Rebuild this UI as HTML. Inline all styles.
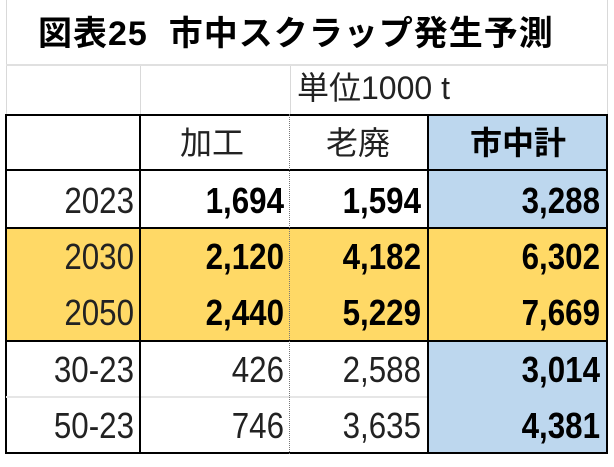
<!DOCTYPE html>
<html><head><meta charset="utf-8"><style>
body{margin:0;width:614px;height:467px;background:#fff;position:relative;overflow:hidden;font-family:"Liberation Sans","Noto Sans CJK JP",sans-serif;}
.a{position:absolute;box-sizing:border-box;}
.t{position:absolute;font-size:30px;line-height:1;color:#000;white-space:nowrap;}
.r{text-align:right;font-size:36px;transform:scaleX(0.87);transform-origin:right center;}
.b{font-weight:bold;}
</style></head><body>
<div class="a" style="left:6px;top:0;width:1px;height:115px;background:#d9d9d9"></div>
<div class="a" style="left:607px;top:0;width:1px;height:115px;background:#d9d9d9"></div>
<div class="a" style="left:6px;top:64px;width:602px;height:2px;background:#e0e0e0"></div>
<div class="a" style="left:140px;top:66px;width:1px;height:49px;background:#d9d9d9"></div>
<div class="a" style="left:290px;top:66px;width:1px;height:49px;background:#d9d9d9"></div>
<div class="t b" style="left:38px;top:17px;font-size:34px;letter-spacing:1px">図表25&nbsp; 市中スクラップ発生予測</div>
<div class="t" style="left:297px;top:72px;font-size:32px;color:#222">単位1000 t</div>
<div class="a" style="left:428px;top:115px;width:179px;height:113px;background:#BDD7EE"></div>
<div class="a" style="left:6px;top:228px;width:601px;height:113px;background:#FFD966"></div>
<div class="a" style="left:428px;top:341px;width:179px;height:112px;background:#BDD7EE"></div>
<div class="a" style="left:5px;top:114px;width:603px;height:340px;border:2px solid #000"></div>
<div class="a" style="left:5px;top:169px;width:603px;height:2px;background:#000"></div>
<div class="a" style="left:5px;top:227px;width:603px;height:2px;background:#000"></div>
<div class="a" style="left:5px;top:340px;width:603px;height:2px;background:#000"></div>
<div class="a" style="left:6px;top:396px;width:422px;height:2px;background:#e6e6e6"></div>
<div class="a" style="left:139px;top:114px;width:2px;height:340px;background:#000"></div>
<div class="a" style="left:289px;top:114px;width:0;height:340px;border-left:1px dotted #777"></div>
<div class="a" style="left:427px;top:114px;width:2px;height:340px;background:#000"></div>
<div class="t" style="left:180px;top:127px;font-size:32px;color:#222">加工</div>
<div class="t" style="left:326px;top:127px;font-size:32px;color:#222">老廃</div>
<div class="t b" style="left:470px;top:127px;font-size:32px">市中計</div>

<div class="t r" style="left:10px;width:124px;top:183px;color:#222">2023</div>
<div class="t r b" style="left:145px;width:139px;top:183px">1,694</div>
<div class="t r b" style="left:295px;width:126px;top:183px">1,594</div>
<div class="t r b" style="left:432px;width:168px;top:183px">3,288</div>

<div class="t r" style="left:10px;width:124px;top:239px;color:#222">2030</div>
<div class="t r b" style="left:145px;width:139px;top:239px">2,120</div>
<div class="t r b" style="left:295px;width:126px;top:239px">4,182</div>
<div class="t r b" style="left:432px;width:168px;top:239px">6,302</div>

<div class="t r" style="left:10px;width:124px;top:295px;color:#222">2050</div>
<div class="t r b" style="left:145px;width:139px;top:295px">2,440</div>
<div class="t r b" style="left:295px;width:126px;top:295px">5,229</div>
<div class="t r b" style="left:432px;width:168px;top:295px">7,669</div>

<div class="t r" style="left:10px;width:124px;top:352px;color:#222">30-23</div>
<div class="t r" style="left:145px;width:139px;top:352px;color:#222">426</div>
<div class="t r" style="left:295px;width:126px;top:352px;color:#222">2,588</div>
<div class="t r b" style="left:432px;width:168px;top:352px">3,014</div>

<div class="t r" style="left:10px;width:124px;top:408px;color:#222">50-23</div>
<div class="t r" style="left:145px;width:139px;top:408px;color:#222">746</div>
<div class="t r" style="left:295px;width:126px;top:408px;color:#222">3,635</div>
<div class="t r b" style="left:432px;width:168px;top:408px">4,381</div>
</body></html>
